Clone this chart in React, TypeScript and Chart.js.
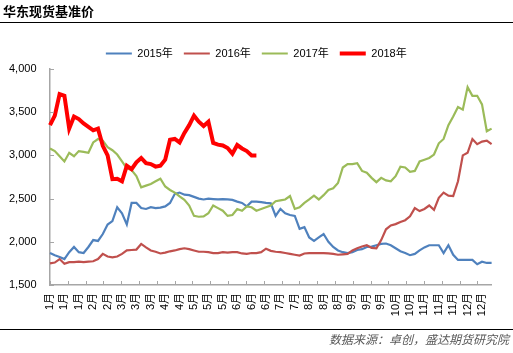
import React, { useEffect, useRef } from 'react';
import { Chart, registerables } from 'chart.js';

Chart.register(...registerables);

// ---- data ----
const tickLabels = [
  '1月', '1月', '1月', '2月', '2月', '3月', '3月', '3月', '4月', '4月',
  '5月', '5月', '5月', '6月', '6月', '6月', '7月', '7月', '8月', '8月',
  '8月', '9月', '9月', '9月', '10月', '10月', '11月', '11月', '11月', '12月', '12月',
];
const LABEL_EVERY = 3;

const seriesNames = ['2015年', '2016年', '2017年', '2018年'];

const s2015 = [
  1870, 1845, 1825, 1800, 1880, 1940, 1880, 1870, 1940, 2020,
  2010, 2090, 2200, 2240, 2400, 2330, 2200, 2450, 2450, 2390,
  2380, 2400, 2390, 2395, 2410, 2450, 2555, 2570, 2545, 2540,
  2520, 2500, 2490, 2500, 2495, 2490, 2495, 2490, 2485, 2465,
  2450, 2410, 2465, 2465, 2460, 2450, 2445, 2300, 2380, 2330,
  2310, 2300, 2150, 2170, 2050, 2010, 2050, 2090, 2000, 1940,
  1900, 1880, 1870, 1880, 1905, 1915, 1940, 1945, 1960, 1975,
  1980, 1960, 1925, 1890, 1870, 1845, 1860, 1900, 1935, 1960,
  1960, 1960, 1870, 1960, 1850, 1790, 1790, 1790, 1790, 1740,
  1770, 1755, 1755,
];

const s2016 = [
  1750, 1760, 1800, 1745, 1765, 1765, 1770, 1765, 1770, 1775,
  1800, 1860, 1830, 1820, 1830, 1860, 1900, 1905, 1910, 1975,
  1935, 1900, 1885, 1865, 1875, 1890, 1900, 1915, 1925, 1915,
  1900, 1885, 1885, 1880, 1870, 1870, 1880, 1875, 1880, 1880,
  1865, 1860, 1870, 1870, 1880, 1920, 1895, 1885, 1880, 1870,
  1860, 1850, 1840, 1865, 1870, 1870, 1870, 1870, 1865, 1860,
  1850, 1855, 1860, 1900, 1925, 1945, 1960, 1930, 1925, 2020,
  2145, 2190, 2205, 2230, 2250, 2295, 2390, 2355, 2380, 2420,
  2370, 2510, 2570, 2535, 2530, 2700, 3000, 3030, 3190, 3130,
  3160, 3170, 3130,
];

const s2017 = [
  3080, 3050, 2990, 2930, 3030, 2990, 3050, 3040, 3030, 3150,
  3190, 3170, 3095, 3060, 3010, 2930, 2850, 2830, 2760, 2630,
  2650, 2670, 2700, 2730, 2640, 2600, 2570, 2525, 2485, 2420,
  2300, 2290, 2295, 2330, 2420, 2390, 2360, 2300, 2310, 2380,
  2360, 2410, 2400, 2360, 2380, 2400, 2420, 2470, 2480, 2490,
  2530, 2380, 2400, 2450, 2490, 2535, 2490, 2540, 2600, 2620,
  2680, 2860, 2900, 2900, 2910, 2820, 2800, 2740, 2690, 2740,
  2710, 2700, 2760, 2870, 2860, 2810, 2820, 2930, 2950, 2970,
  3010, 3140, 3190, 3350, 3450, 3560, 3530, 3790, 3690, 3690,
  3590, 3280, 3310,
];

const s2018 = [
  3350, 3460, 3710, 3690, 3310, 3450, 3420, 3370, 3330, 3290,
  3310, 3110, 3000, 2725, 2730, 2700, 2880, 2840, 2920, 2970,
  2910, 2900, 2870, 2880, 2950, 3180, 3190, 3150, 3260, 3350,
  3460, 3390, 3340, 3390, 3145, 3125, 3115, 3085, 3020, 3120,
  3080, 3050, 3000, 3000,
];

const yMin = 1500;
const yMax = 4000;
const yStep = 500;

// ---- style ----
const FONT = '"Liberation Sans", "Noto Sans CJK SC", sans-serif';
const AXIS_COLOR = '#A6A6A6';
const COLORS = ['#4F81BD', '#C0504D', '#9BBB59', '#FF0000'];
const WIDTHS = [2.2, 2.2, 2.2, 4];
const X_TICK_STEP = 3.71; // tick mark interval, in category units

export default function App() {
  const ref = useRef<HTMLCanvasElement>(null);

  useEffect(() => {
    if (!ref.current) return;
    const categories = Array.from({ length: s2015.length }, (_, i) =>
      i % LABEL_EVERY === 0 ? tickLabels[i / LABEL_EVERY] : ''
    );
    const values = [s2015, s2016, s2017, s2018];

    const tickMarks = {
      id: 'tickMarks',
      afterDraw(chart: any) {
        const { ctx, chartArea, scales } = chart;
        ctx.save();
        ctx.strokeStyle = AXIS_COLOR;
        ctx.lineWidth = 1;
        ctx.beginPath();
        const xs = scales.x;
        for (let k = 0; k * X_TICK_STEP <= xs.max; k++) {
          const px = Math.round(xs.getPixelForValue(k * X_TICK_STEP)) + 0.5;
          ctx.moveTo(px, chartArea.bottom - 4);
          ctx.lineTo(px, chartArea.bottom);
        }
        scales.y.ticks.forEach((t: any) => {
          const py = Math.round(scales.y.getPixelForValue(t.value)) + 0.5;
          ctx.moveTo(chartArea.left, py);
          ctx.lineTo(chartArea.left + 4, py);
        });
        ctx.stroke();
        ctx.restore();
      },
    };

    const chart = new Chart(ref.current, {
      type: 'line',
      data: {
        labels: categories,
        datasets: values.map((d, i) => ({
          label: seriesNames[i],
          data: d,
          borderColor: COLORS[i],
          backgroundColor: COLORS[i],
          borderWidth: WIDTHS[i],
          pointRadius: 0,
          tension: 0,
          fill: false,
          order: 4 - i,
        })),
      },
      options: {
        animation: false,
        responsive: false,
        events: [],
        layout: { padding: { left: 21, right: 21.4, top: 26.5, bottom: 0 } },
        plugins: {
          tooltip: { enabled: false },
          legend: {
            position: 'top',
            labels: {
              usePointStyle: true,
              pointStyle: 'line',
              pointStyleWidth: 26,
              padding: 11,
              color: '#000',
              font: { family: FONT, size: 11 },
              generateLabels: (c: any) =>
                c.data.datasets.map((ds: any, i: number) => ({
                  text: ds.label,
                  fillStyle: ds.borderColor,
                  strokeStyle: ds.borderColor,
                  lineWidth: ds.borderWidth,
                  pointStyle: 'line',
                  hidden: false,
                  datasetIndex: i,
                  fontColor: '#000',
                })),
            },
          },
        },
        scales: {
          x: {
            type: 'category',
            grid: { display: false, drawTicks: false },
            border: { display: true, color: AXIS_COLOR, width: 1.5 },
            ticks: {
              autoSkip: false,
              minRotation: 90,
              maxRotation: 90,
              padding: 8,
              color: '#000',
              font: { family: FONT, size: 11 },
            },
            afterFit: (s: any) => {
              s.height = 68;
            },
          },
          y: {
            min: yMin,
            max: yMax,
            grid: { display: false, drawTicks: false },
            border: { display: true, color: AXIS_COLOR, width: 1.5 },
            ticks: {
              stepSize: yStep,
              mirror: true,
              padding: -41,
              color: '#000',
              font: { family: FONT, size: 11 },
              callback: (v: any) => Number(v).toLocaleString('en-US'),
            },
            afterFit: (s: any) => {
              s.width = 29;
              s.paddingTop = 69;
            },
          },
        },
      },
      plugins: [tickMarks],
    } as any);

    return () => chart.destroy();
  }, []);

  return (
    <div
      style={{
        position: 'absolute',
        left: 0,
        top: 0,
        width: 513,
        height: 353,
        background: '#fff',
        overflow: 'hidden',
      }}
    >
      <canvas ref={ref} width={513} height={353} style={{ position: 'absolute', left: 0, top: 0 }} />
      <div
        style={{
          position: 'absolute',
          left: 3,
          top: 2,
          fontFamily: '"Noto Sans CJK SC", sans-serif',
          fontWeight: 'bold',
          fontSize: 13,
          lineHeight: '18px',
          color: '#000',
          whiteSpace: 'nowrap',
        }}
      >
        华东现货基准价
      </div>
      <div style={{ position: 'absolute', left: 0, top: 21.5, width: 513, height: 1, background: '#000' }} />
      <div style={{ position: 'absolute', left: 0, top: 329, width: 513, height: 1, background: '#000' }} />
      <div
        style={{
          position: 'absolute',
          right: 4,
          top: 331,
          fontFamily: '"Noto Sans CJK SC", sans-serif',
          fontStyle: 'italic',
          fontSize: 12,
          lineHeight: '16px',
          color: '#595959',
          whiteSpace: 'nowrap',
        }}
      >
        数据来源：卓创，盛达期货研究院
      </div>
    </div>
  );
}
